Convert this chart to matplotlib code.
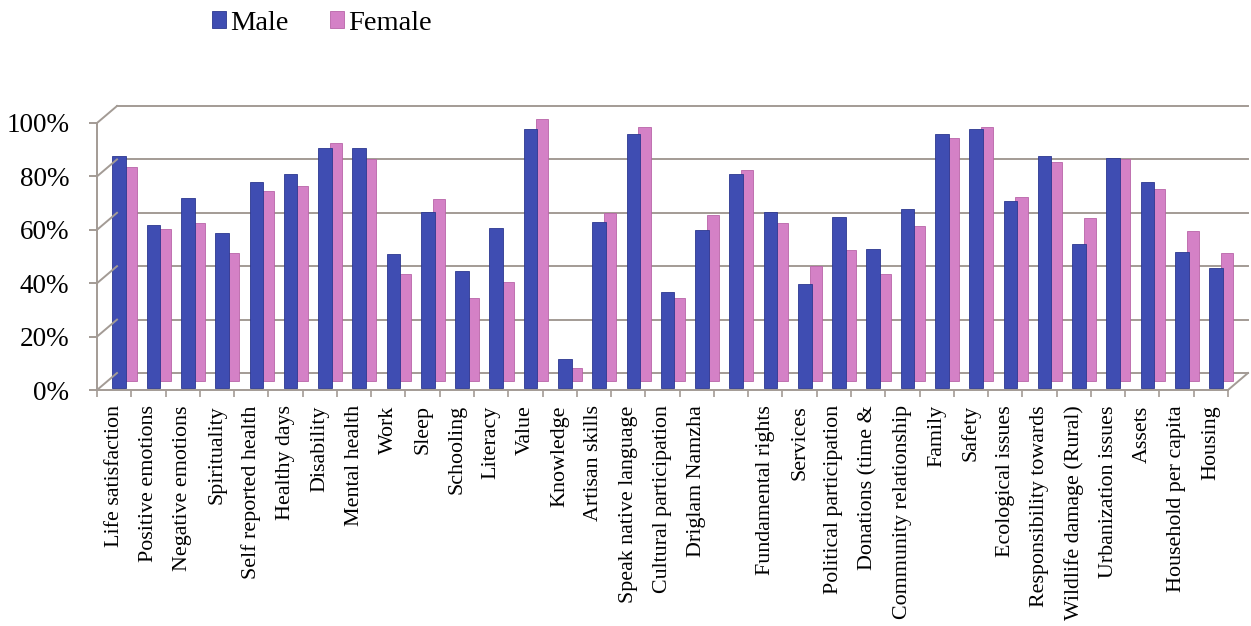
import numpy as np
import matplotlib
matplotlib.use("Agg")
import matplotlib.pyplot as plt
import matplotlib.transforms as mtransforms
from matplotlib.lines import Line2D

categories = ["Life satisfaction", "Positive emotions", "Negative emotions", "Spirituality",
              "Self reported health", "Healthy days", "Disability", "Mental health", "Work",
              "Sleep", "Schooling", "Literacy", "Value", "Knowledge", "Artisan skills",
              "Speak native language", "Cultural participation", "Driglam Namzha", "",
              "Fundamental rights", "Services", "Political participation", "Donations (time &",
              "Community relationship", "Family", "Safety", "Ecological issues",
              "Responsibility towards", "Wildlife damage (Rural)", "Urbanization issues",
              "Assets", "Household per capita", "Housing"]
male = [87, 61, 71, 58, 77, 80, 90, 90, 50, 66, 44, 60, 97, 11, 62, 95, 36, 59, 80,
        66, 39, 64, 52, 67, 95, 97, 70, 87, 54, 86, 77, 51, 45]
female = [80, 57, 59, 48, 71, 73, 89, 83, 40, 68, 31, 37, 98, 5, 63, 95, 31, 62, 79,
          59, 43, 49, 40, 58, 91, 95, 69, 82, 61, 83, 72, 56, 48]
yticks = [0, 20, 40, 60, 80, 100]

plt.rcParams['font.family'] = ['Liberation Serif', 'DejaVu Serif']
fig = plt.figure(figsize=(12.51, 6.26), dpi=100)
W, H = 1251, 626
ax = fig.add_axes([97 / W, (H - 390) / H, (1228 - 97) / W, (390 - 123) / H])
n = len(categories)
ax.set_xlim(-0.5, n - 0.5)
ax.set_ylim(0, 100)

grid_col = '#a39b95'
male_col = '#3f4db2'
female_col = '#d481c6'

# back wall sits up and to the right of the front edge
wall = mtransforms.offset_copy(ax.transData, fig=fig, x=20, y=17, units='dots')
male_tr = mtransforms.offset_copy(ax.transData, fig=fig, x=0, y=2, units='dots')
fem_tr = mtransforms.offset_copy(ax.transData, fig=fig, x=6, y=9, units='dots')

x = np.arange(n)
for v in yticks:
    ax.plot([-0.5, n - 0.5], [v, v], color=grid_col, lw=1.4, transform=wall,
            zorder=1, clip_on=False)

ax.bar(x + 0.30, female, 0.36, color=female_col, edgecolor='#b865a8', lw=0.6,
       transform=fem_tr, zorder=2, clip_on=False, label='Female')
ax.bar(x + 0.15, male, 0.40, color=male_col, edgecolor='#2c3890', lw=0.6,
       transform=male_tr, zorder=3, clip_on=False, label='Male')

# side-wall diagonals and floor corner
fig_inv = fig.transFigure.inverted()
def diag(xv, yv):
    p1 = fig_inv.transform(ax.transData.transform((xv, yv)))
    p2 = fig_inv.transform(wall.transform((xv, yv)))
    fig.add_artist(Line2D([p1[0], p2[0]], [p1[1], p2[1]], color=grid_col, lw=1.4, zorder=1))
for v in yticks:
    diag(-0.5, v)
diag(n - 0.5, 0)

for s in ['top', 'right']:
    ax.spines[s].set_visible(False)
for s in ['left', 'bottom']:
    ax.spines[s].set_color(grid_col)
    ax.spines[s].set_linewidth(1.4)
ax.set_facecolor('none')

ax.set_yticks(yticks)
ax.set_yticklabels([f"{v}%" for v in yticks], fontsize=19.5)
ax.tick_params(axis='y', length=6, color=grid_col, width=1.4, pad=14)

ax.set_xticks(x)
ax.set_xticklabels(categories, rotation=90, fontsize=15.8, va='top', ha='center')
ax.set_xticks(np.arange(n + 1) - 0.5, minor=True)
ax.tick_params(axis='x', which='major', length=0, pad=11)
ax.tick_params(axis='x', which='minor', length=5, color=grid_col, width=1.2)

h, l = ax.get_legend_handles_labels()
fig.legend(h[::-1], l[::-1], loc='upper left', bbox_to_anchor=(186 / W, 1.0 + 15 / H), ncol=2,
           frameon=False, fontsize=20.5, handlelength=0.5, handleheight=0.5,
           handletextpad=0.15, columnspacing=1.45)

fig.savefig('out.png', dpi=100)
